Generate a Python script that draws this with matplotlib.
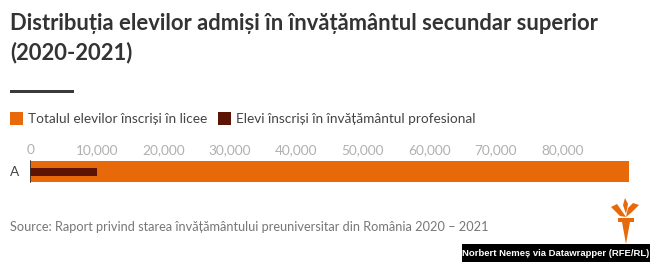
import matplotlib
matplotlib.use("Agg")
import matplotlib.pyplot as plt
from matplotlib.patches import Rectangle, Polygon

# data
categories = ["A"]
total_licee = [90100]
profesional = [10100]
ticks = [0, 10000, 20000, 30000, 40000, 50000, 60000, 70000, 80000]
tick_labels = ["0", "10,000", "20,000", "30,000", "40,000", "50,000", "60,000", "70,000", "80,000"]

ORANGE = "#e8690a"
DARK = "#5c1505"
W, H = 650, 262

plt.rcParams["font.family"] = ["Lato", "DejaVu Sans"]

fig = plt.figure(figsize=(W / 100, H / 100), dpi=100)

def px(x, y):
    # pixel (from top-left) -> figure coords
    return x / W, 1 - y / H

# title
fig.text(*px(10, 23), "Distribuția elevilor admiși în învățământul secundar superior",
         fontsize=15.8, fontweight="bold", color="#333333", va="center")
fig.text(*px(10, 53), "(2020-2021)", fontsize=15.8, fontweight="bold", color="#333333", va="center")
fig.add_artist(Rectangle(px(10, 92.5), 64 / W, 3 / H, transform=fig.transFigure,
                         color="#3a3a3a", lw=0))

# legend
fig.add_artist(Rectangle(px(10, 125), 13 / W, 13 / H, transform=fig.transFigure, color=ORANGE, lw=0))
fig.text(*px(28, 118.5), "Totalul elevilor înscriși în licee", fontsize=9.8, color="#444444", va="center")
fig.add_artist(Rectangle(px(218, 125), 13 / W, 13 / H, transform=fig.transFigure, color=DARK, lw=0))
fig.text(*px(236, 118.5), "Elevi înscriși în învățământul profesional", fontsize=9.8, color="#444444", va="center")

# bar axes
x0, x1 = 30.3, 645
scale = 66.5 / 10000  # px per unit
y_top, y_bot = 155, 188
ax = fig.add_axes([x0 / W, 1 - y_bot / H, (x1 - x0) / W, (y_bot - y_top) / H])
ax.set_xlim(0, (x1 - x0) / scale)
ax.set_ylim(-0.5, 0.5)
bh = 21 / (y_bot - y_top)
ax.barh(0, total_licee, height=bh, color=ORANGE, lw=0)
ax.barh(0, profesional, height=8 / (y_bot - y_top), color=DARK, lw=0)
ax.axvline(0, ymin=0.5 - bh / 2, ymax=0.5 + bh / 2, color="#333333", lw=1.2)
for s in ax.spines.values():
    s.set_visible(False)
ax.set_yticks([0])
ax.set_yticklabels(categories, fontsize=9.8, color="#444444")
ax.tick_params(axis="y", length=0, pad=8)
ax.xaxis.tick_top()
ax.set_xticks(ticks)
ax.set_xticklabels(tick_labels, fontsize=9.8, color="#b0b0b0")
ax.tick_params(axis="x", length=0, pad=-1)

# source
fig.text(*px(10, 227), "Source: Raport privind starea învățământului preuniversitar din România 2020 – 2021",
         fontsize=9.15, color="#777777", va="center")

# credit box
fig.add_artist(Rectangle(px(462, 262), (W - 462) / W, 18 / H, transform=fig.transFigure, color="black", lw=0))
fig.text(*px(556, 253), "Norbert Nemeș via Datawrapper (RFE/RL)", fontsize=6.8, fontweight="bold",
         color="white", ha="center", va="center", family=["Liberation Sans", "DejaVu Sans"])

# torch logo (rough)
torch = [(626, 244), (622, 222), (618, 222), (618, 218), (634, 218), (634, 222), (630, 222)]
fig.add_artist(Polygon([px(*p) for p in torch], closed=True, transform=fig.transFigure, color=ORANGE, lw=0))
flame_l = [(611, 207), (617, 204), (624, 214), (626, 217), (620, 216)]
flame_r = [(626, 217), (628, 208), (633, 203), (639, 205), (632, 212)]
flame_c = [(623, 205), (625, 198), (628, 204), (626, 214)]
for f in (flame_l, flame_r, flame_c):
    fig.add_artist(Polygon([px(*p) for p in f], closed=True, transform=fig.transFigure, color=ORANGE, lw=0))

fig.savefig("out.png", dpi=100, facecolor="white")
